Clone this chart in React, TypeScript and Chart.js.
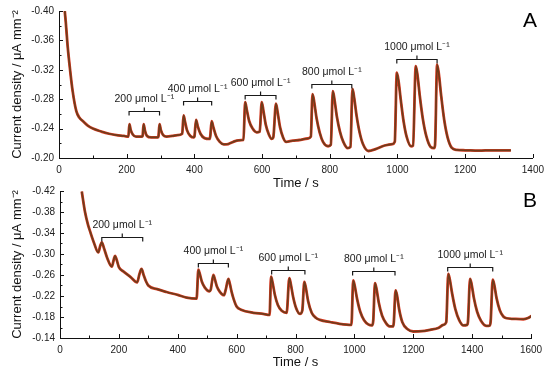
import React, { useEffect, useRef } from 'react';
import { Chart, registerables } from 'chart.js';
Chart.register(...registerables);

// ---------- Panel A data ----------
const timeA = [17, 20, 25, 32, 40, 51, 60, 71, 85, 100, 125, 148, 170, 192, 205,
  208, 212, 218, 228, 245, 247, 250, 254, 260, 272, 292, 294, 297, 301, 308, 318, 335, 350, 364,
  368, 372, 378, 388, 398, 400, 405, 410, 418, 430, 445, 447, 451, 456, 464, 475, 487, 500, 515, 530, 545,
  550, 555, 562, 572, 584, 593, 599, 604, 611, 620, 628, 633, 641, 646, 653, 662, 671, 690, 710, 735, 744,
  749, 754, 761, 770, 780, 795, 803, 809, 814, 821, 830, 840, 853, 861, 867, 872, 879, 888, 898, 914, 935, 962, 985, 992,
  998, 1003, 1010, 1018, 1027, 1040, 1046, 1054, 1059, 1066, 1075, 1085, 1098, 1108, 1111, 1117, 1122, 1129, 1138, 1148, 1160, 1175, 1200, 1240, 1280, 1320, 1335];
const currentA = [-0.4, -0.385, -0.355, -0.323, -0.292, -0.264, -0.255, -0.25, -0.244, -0.24, -0.236, -0.233, -0.231, -0.23, -0.229,
  -0.246, -0.238, -0.232, -0.229, -0.229, -0.23, -0.246, -0.237, -0.23, -0.228, -0.228, -0.23, -0.246, -0.238, -0.231, -0.229, -0.23, -0.231, -0.233,
  -0.258, -0.25, -0.238, -0.23, -0.228, -0.229, -0.252, -0.243, -0.233, -0.227, -0.226, -0.23, -0.25, -0.242, -0.23, -0.222, -0.2185, -0.219, -0.222, -0.224, -0.2245,
  -0.276, -0.265, -0.25, -0.24, -0.235, -0.236, -0.276, -0.264, -0.245, -0.232, -0.226, -0.228, -0.274, -0.262, -0.242, -0.228, -0.222, -0.2235, -0.2245, -0.2265, -0.229,
  -0.287, -0.276, -0.254, -0.235, -0.222, -0.216, -0.218, -0.291, -0.279, -0.256, -0.236, -0.222, -0.2135, -0.215, -0.294, -0.282, -0.258, -0.235, -0.219, -0.2095, -0.212, -0.217, -0.219, -0.222,
  -0.316, -0.305, -0.278, -0.25, -0.229, -0.216, -0.217, -0.325, -0.313, -0.284, -0.253, -0.23, -0.215, -0.2135, -0.218, -0.327, -0.315, -0.285, -0.252, -0.228, -0.214, -0.211, -0.2105, -0.21, -0.2105, -0.2105, -0.2105];

// ---------- Panel B data ----------
const timeB = [74, 85, 95, 102, 115, 130, 137, 142, 150, 160, 176, 183, 187, 193, 200, 215, 240, 262, 270, 277, 284, 292, 300, 330, 362, 400, 430, 464,
  470, 475, 482, 492, 507, 512, 521, 526, 533, 543, 557, 563, 572, 577, 583, 590, 600, 615, 657, 690, 712,
  717, 722, 730, 740, 753, 770, 779, 784, 792, 802, 815, 823, 830, 835, 843, 855, 870, 883, 920, 950, 990,
  996, 1001, 1009, 1020, 1033, 1047, 1060, 1064, 1070, 1075, 1083, 1094, 1108, 1121, 1132, 1134, 1140, 1145, 1152, 1163, 1180, 1200, 1230, 1257, 1285, 1302, 1312,
  1319, 1324, 1332, 1343, 1356, 1370, 1383, 1386, 1393, 1398, 1406, 1417, 1430, 1449, 1460, 1463, 1470, 1475, 1483, 1494, 1506, 1517, 1540, 1574, 1590, 1602];
const currentB = [-0.419, -0.38, -0.356, -0.3435, -0.322, -0.303, -0.316, -0.322, -0.31, -0.293, -0.276, -0.29, -0.2966, -0.288, -0.275, -0.267, -0.256, -0.246, -0.262, -0.2715, -0.26, -0.248, -0.24, -0.233, -0.2276, -0.222, -0.217, -0.215,
  -0.27, -0.262, -0.247, -0.236, -0.229, -0.232, -0.26, -0.252, -0.238, -0.228, -0.2215, -0.232, -0.2527, -0.243, -0.228, -0.214, -0.2, -0.194, -0.188, -0.186, -0.184,
  -0.257, -0.246, -0.222, -0.203, -0.192, -0.188, -0.254, -0.243, -0.218, -0.197, -0.186, -0.192, -0.247, -0.236, -0.21, -0.188, -0.178, -0.1744, -0.17, -0.167, -0.165,
  -0.2495, -0.24, -0.215, -0.19, -0.174, -0.166, -0.164, -0.172, -0.2445, -0.234, -0.207, -0.183, -0.168, -0.162, -0.162, -0.17, -0.2308, -0.221, -0.195, -0.17, -0.157, -0.1524, -0.153, -0.1556, -0.159, -0.165, -0.17,
  -0.262, -0.252, -0.225, -0.195, -0.174, -0.164, -0.165, -0.172, -0.2528, -0.243, -0.216, -0.19, -0.173, -0.163, -0.164, -0.172, -0.251, -0.242, -0.216, -0.193, -0.181, -0.1776, -0.1765, -0.1757, -0.178, -0.182];

// ---------- Annotations ----------
const concLabels = ['200 μmol L⁻¹', '400 μmol L⁻¹', '600 μmol L⁻¹', '800 μmol L⁻¹', '1000 μmol L⁻¹'];
const bracketStartA = [207, 368, 550, 747, 998];
const bracketEndA = [297, 451, 641, 865, 1117];
const bracketLevelA = [-0.2645, -0.278, -0.2857, -0.3005, -0.3343];
const bracketStartB = [142, 470, 719, 994, 1317];
const bracketEndB = [281, 572, 832, 1138, 1470];
const bracketLevelB = [-0.332, -0.283, -0.269, -0.267, -0.276];

const yTitle = 'Current density / μA mm⁻²';
const xTitle = 'Time / s';
const FONT = '"Liberation Sans", Arial, sans-serif';

const decorPlugin = {
  id: 'decor',
  afterDraw(chart: any, _args: any, opts: any) {
    const ctx = chart.ctx;
    const xs = chart.scales.x;
    const ys = chart.scales.y;
    const area = chart.chartArea;
    ctx.save();
    ctx.strokeStyle = '#111';
    ctx.lineWidth = 1;
    xs.ticks.forEach((t: any) => {
      const px = Math.round(xs.getPixelForValue(t.value)) + 0.5;
      const len = t.label !== '' ? 4 : 2.5;
      ctx.beginPath();
      ctx.moveTo(px, area.bottom);
      ctx.lineTo(px, area.bottom - len);
      ctx.stroke();
    });
    ys.ticks.forEach((t: any) => {
      const py = Math.round(ys.getPixelForValue(t.value)) + 0.5;
      const len = t.label !== '' ? 4 : 2.5;
      ctx.beginPath();
      ctx.moveTo(area.left, py);
      ctx.lineTo(area.left + len, py);
      ctx.stroke();
    });
    const { start, end, level, labels, letter } = opts;
    ctx.lineWidth = 1.2;
    ctx.strokeStyle = '#1a1a1a';
    ctx.fillStyle = '#1a1a1a';
    ctx.font = '10.5px ' + FONT;
    ctx.textAlign = 'center';
    ctx.textBaseline = 'middle';
    for (let i = 0; i < start.length; i++) {
      const x1 = xs.getPixelForValue(start[i]);
      const x2 = xs.getPixelForValue(end[i]);
      const yy = Math.round(ys.getPixelForValue(level[i])) + 0.5;
      const xm = (x1 + x2) / 2;
      ctx.beginPath();
      ctx.moveTo(x1, yy + 4);
      ctx.lineTo(x1, yy);
      ctx.lineTo(x2, yy);
      ctx.lineTo(x2, yy + 4);
      ctx.moveTo(xm, yy);
      ctx.lineTo(xm, yy - 4);
      ctx.stroke();
      ctx.fillText(labels[i], xm, yy - 12);
    }
    ctx.font = '21px ' + FONT;
    ctx.textAlign = 'center';
    ctx.textBaseline = 'alphabetic';
    ctx.fillStyle = '#000';
    ctx.fillText(letter, 530, 27);
    ctx.restore();
  },
};

function makeConfig(time: number[], current: number[], p: any) {
  const over = time.map((t, i) => ({ x: t, y: current[i] }));
  const under = time.map((t, i) => ({ x: t, y: current[i] }));
  return {
    type: 'line' as const,
    data: {
      datasets: [
        // dataset 0 is painted last (on top)
        { data: over, borderColor: '#6e3c1b', borderWidth: 1.7, pointRadius: 0, cubicInterpolationMode: 'monotone' as const },
        { data: under, borderColor: '#d83a22', borderWidth: 2.8, pointRadius: 0, cubicInterpolationMode: 'monotone' as const },
      ],
    },
    options: {
      responsive: false,
      animation: false as const,
      layout: { padding: p.padding },
      plugins: {
        legend: { display: false },
        tooltip: { enabled: false },
        decor: p.decor,
      },
      scales: {
        x: {
          type: 'linear' as const,
          min: 0,
          max: p.xMax,
          afterFit: (s: any) => { s.height = 34; },
          border: { color: '#111', width: 1 },
          grid: { drawOnChartArea: false, drawTicks: false },
          ticks: {
            stepSize: 100,
            autoSkip: false,
            maxRotation: 0,
            padding: 6,
            color: '#222',
            font: { family: FONT, size: 10 },
            callback: (v: any) => (Math.round(v) % 200 === 0 ? String(Math.round(v)) : ''),
          },
          title: {
            display: true,
            text: xTitle,
            color: '#111',
            font: { family: FONT, size: 13 },
            padding: { top: 0, bottom: p.xTitlePad },
          },
        },
        y: {
          type: 'linear' as const,
          min: p.yMin,
          max: p.yMax,
          reverse: true,
          afterFit: (s: any) => { s.width = p.yWidth; },
          border: { color: '#111', width: 1 },
          grid: { drawOnChartArea: false, drawTicks: false },
          ticks: {
            stepSize: 0.02,
            autoSkip: false,
            padding: 5,
            color: '#222',
            font: { family: FONT, size: 10 },
            callback: (v: any) => {
              const k = Math.round(v * 100) - Math.round(p.yMin * 100);
              return k % 4 === 0 ? Number(v).toFixed(2) : '';
            },
          },
          title: {
            display: true,
            text: yTitle,
            color: '#111',
            font: { family: FONT, size: 13 },
            padding: { top: 10, bottom: 0 },
          },
        },
      },
    },
    plugins: [decorPlugin],
  };
}

function Panel(props: { top: number; cfg: any }) {
  const ref = useRef<HTMLCanvasElement>(null);
  useEffect(() => {
    const chart = new Chart(ref.current as HTMLCanvasElement, props.cfg);
    return () => chart.destroy();
  }, []);
  return (
    <canvas
      ref={ref}
      width={550}
      height={192}
      style={{ position: 'absolute', left: 0, top: props.top, width: 550, height: 192, display: 'block' }}
    />
  );
}

export default function App() {
  const cfgA = makeConfig(timeA, currentA, {
    padding: { top: 10, right: 10, bottom: 0, left: 0 },
    xMax: 1400, yMin: -0.4, yMax: -0.2, yWidth: 59, xTitlePad: 1,
    decor: { start: bracketStartA, end: bracketEndA, level: bracketLevelA, labels: concLabels, letter: 'A' },
  });
  const cfgB = makeConfig(timeB, currentB, {
    padding: { top: 9, right: 19, bottom: 0, left: 0 },
    xMax: 1600, yMin: -0.42, yMax: -0.14, yWidth: 60, xTitlePad: 2,
    decor: { start: bracketStartB, end: bracketEndB, level: bracketLevelB, labels: concLabels, letter: 'B' },
  });
  return (
    <div style={{ position: 'absolute', left: 0, top: 0, width: 550, height: 372, background: '#fff' }}>
      <Panel top={0} cfg={cfgA} />
      <Panel top={180} cfg={cfgB} />
    </div>
  );
}
